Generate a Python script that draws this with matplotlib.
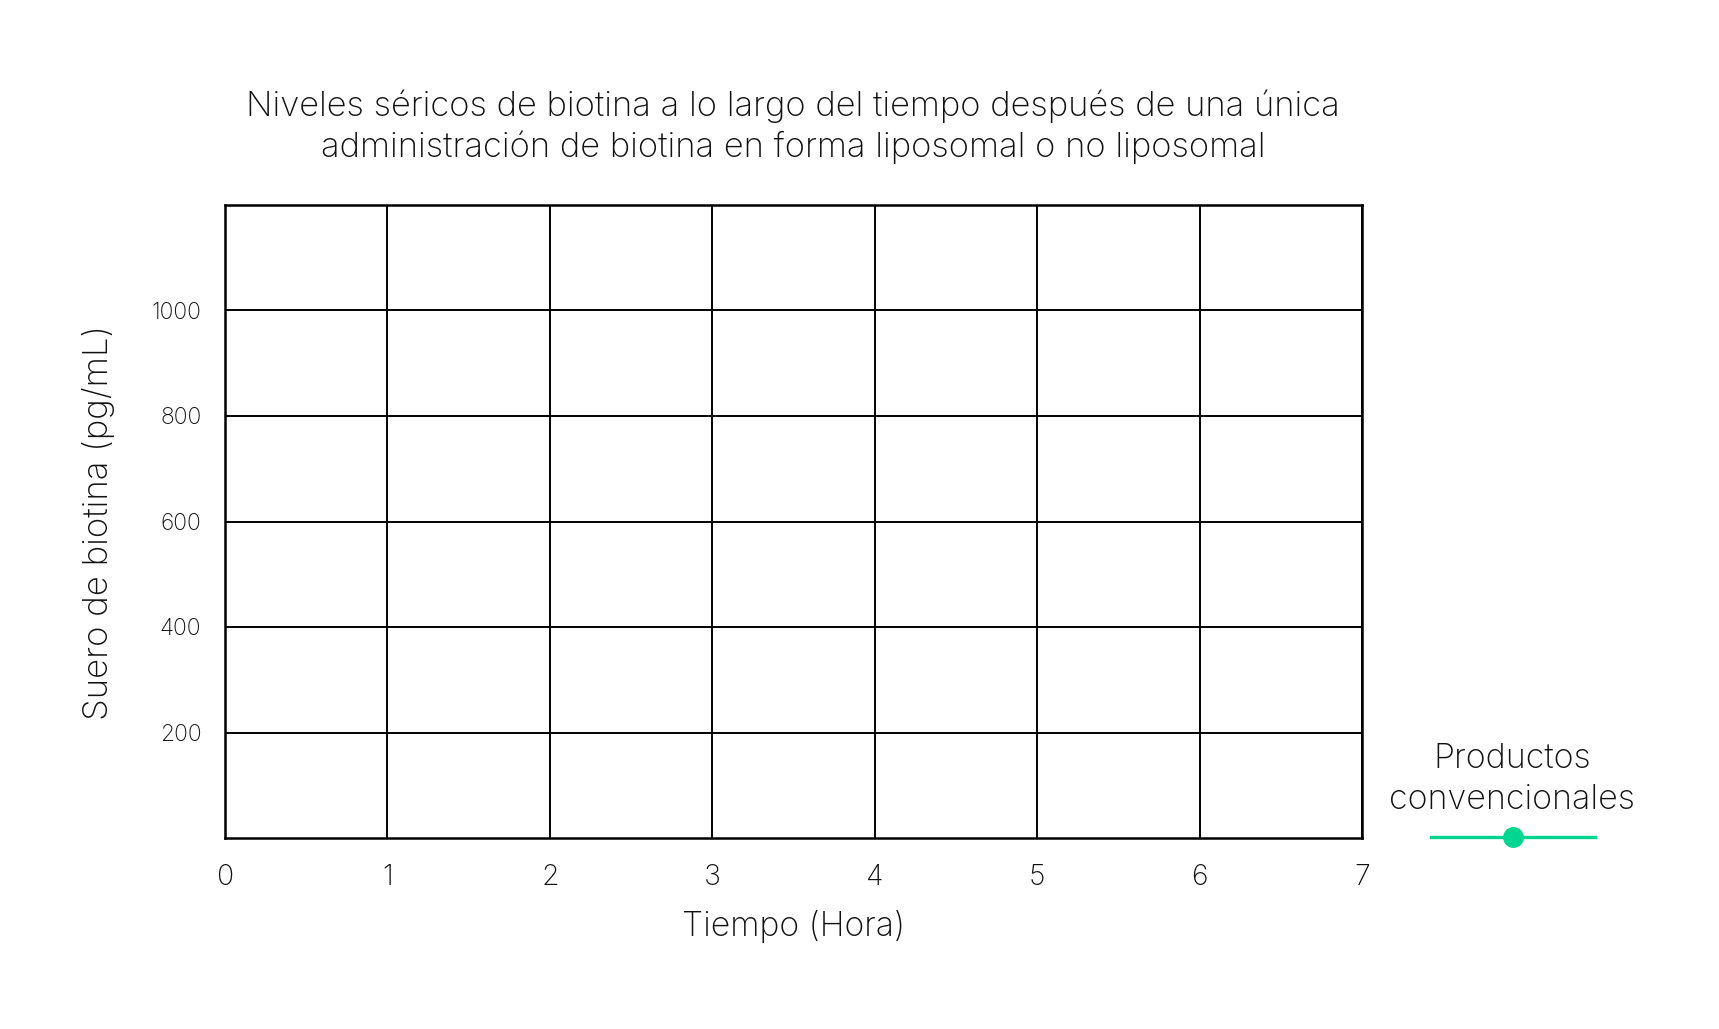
import matplotlib
matplotlib.use("Agg")
import matplotlib.pyplot as plt
from matplotlib.lines import Line2D

# Data
x_ticks = [0, 1, 2, 3, 4, 5, 6, 7]
y_ticks = [200, 400, 600, 800, 1000]
y_tick_labels = ["200", "400", "600", "800", "1000"]
series_name = "Productos\nconvencionales"
series_x = []
series_y = []
title = ("Niveles séricos de biotina a lo largo del tiempo después de una única\n"
         "administración de biotina en forma liposomal o no liposomal")
xlabel = "Tiempo (Hora)"
ylabel = "Suero de biotina (pg/mL)"
green = "#00d68f"
ink = "#111111"

plt.rcParams['font.family'] = ['Inter', 'DejaVu Sans']
plt.rcParams['font.weight'] = 'light'
plt.rcParams['axes.labelweight'] = 'light'

W, H = 1719, 1029
fig = plt.figure(figsize=(W / 100, H / 100), dpi=100)
fig.patch.set_facecolor("white")
ax = fig.add_axes([225 / W, 1 - 838 / H, (1362 - 225) / W, (838 - 205) / H])

ax.plot(series_x, series_y, color=green, lw=2.4, marker='o', ms=14)
ax.set_xlim(0, 7)
ax.set_ylim(0, 1200)
ax.set_xticks(x_ticks)
ax.set_xticklabels([str(v) for v in x_ticks], fontsize=20.5, color=ink)
ax.set_yticks(y_ticks)
ax.set_yticklabels(y_tick_labels, fontsize=16.5, color=ink)
ax.tick_params(axis='both', length=0)
ax.tick_params(axis='x', pad=19)
ax.tick_params(axis='y', pad=17)
ax.grid(True, color='black', lw=1.4)
ax.set_axisbelow(True)
for s in ax.spines.values():
    s.set_linewidth(1.8)
    s.set_color('black')

ax.set_xlabel(xlabel, fontsize=24.3, color=ink, fontweight='light')
ax.xaxis.set_label_coords(0.5, -(910 - 838) / (838 - 205))
ax.set_ylabel(ylabel, fontsize=25.1, color=ink, fontweight='light')
ax.yaxis.set_label_coords(-(225 - 115) / (1362 - 225), 0.5 - 1.5 / (838 - 205))

fig.text(793 / W, 1 - 127 / H, title, ha='center', va='center', fontsize=24.9,
         color=ink, linespacing=1.3)

# Legend
fig.text(1512 / W, 1 - 779 / H, series_name, ha='center', va='center',
         fontsize=24.5, color=ink, linespacing=1.38)
lx0, lx1, ly = 1431 / W, 1595 / W, 1 - 837 / H
fig.add_artist(Line2D([lx0, lx1], [ly, ly], transform=fig.transFigure,
                      color=green, lw=2.4))
fig.add_artist(Line2D([(lx0 + lx1) / 2], [ly], transform=fig.transFigure,
                      color=green, marker='o', ms=14, lw=0))

fig.savefig("out.png", dpi=100)
